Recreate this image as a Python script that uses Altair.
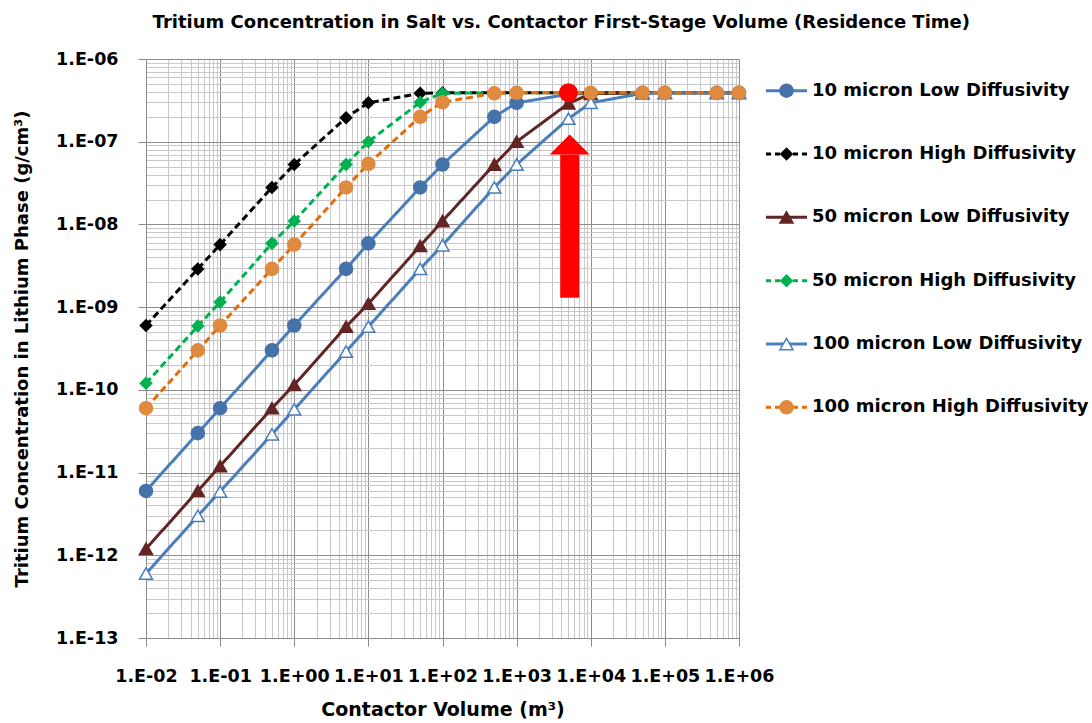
import altair as alt
import pandas as pd

# ---------------- data ----------------
volumes = [0.01, 0.05, 0.1, 0.5, 1, 5, 10, 50, 100, 500, 1000, 5000,
           1e4, 5e4, 1e5, 5e5, 1e6]

series_names = [
    "10 micron Low Diffusivity",
    "10 micron High Diffusivity",
    "50 micron Low Diffusivity",
    "50 micron High Diffusivity",
    "100 micron Low Diffusivity",
    "100 micron High Diffusivity",
]

low_10 = [6e-12, 3e-11, 6e-11, 3e-10, 6e-10, 2.9e-9, 5.9e-9, 2.8e-8, 5.3e-8,
          2e-7, 2.95e-7, 3.75e-7, 3.85e-7, 3.9e-7, 3.9e-7, 3.9e-7, 3.9e-7]
high_10 = [6e-10, 2.9e-9, 5.7e-9, 2.8e-8, 5.3e-8, 1.95e-7, 2.95e-7, 3.85e-7,
           3.9e-7, 3.9e-7, 3.9e-7, 3.9e-7, 3.9e-7, 3.9e-7, 3.9e-7, 3.9e-7, 3.9e-7]
low_50 = [1.2e-12, 6e-12, 1.2e-11, 6e-11, 1.15e-10, 5.8e-10, 1.1e-9, 5.5e-9,
          1.1e-8, 5.3e-8, 1e-7, 2.9e-7, 3.8e-7, 3.9e-7, 3.9e-7, 3.9e-7, 3.9e-7]
high_50 = [1.2e-10, 5.9e-10, 1.15e-9, 5.9e-9, 1.1e-8, 5.3e-8, 1e-7, 3e-7,
           3.85e-7, 3.9e-7, 3.9e-7, 3.9e-7, 3.9e-7, 3.9e-7, 3.9e-7, 3.9e-7, 3.9e-7]
low_100 = [6e-13, 3e-12, 5.9e-12, 2.9e-11, 5.8e-11, 2.9e-10, 5.8e-10, 2.9e-9,
           5.6e-9, 2.8e-8, 5.3e-8, 1.9e-7, 2.95e-7, 3.85e-7, 3.9e-7, 3.9e-7, 3.9e-7]
high_100 = [6e-11, 3e-10, 6e-10, 2.9e-9, 5.7e-9, 2.8e-8, 5.4e-8, 2e-7, 3e-7,
            3.85e-7, 3.9e-7, 3.9e-7, 3.9e-7, 3.9e-7, 3.9e-7, 3.9e-7, 3.9e-7]

series_values = [low_10, high_10, low_50, high_50, low_100, high_100]

# highlighted point and arrow annotation
highlight_x = [5000]
highlight_y = [3.9e-7]
arrow_x = [5200]
arrow_tail_y = [1.3e-9]
arrow_head_y = [7e-8]

# ---------------- styles ----------------
line_colors = ["#4A7EBB", "#000000", "#632523", "#00B050", "#4A7EBB", "#E46C0A"]
marker_fill = ["#4672AA", "#000000", "#632523", "#00B050", "#FFFFFF", "#DF8A3F"]
marker_stroke = ["#4672AA", "#000000", "#632523", "#00B050", "#4A7EBB", "#DF8A3F"]
shapes = ["circle", "diamond", "triangle-up", "diamond", "triangle-up", "circle"]
sizes = [170, 130, 170, 130, 170, 170]
dashes = [[1, 0], [7, 4], [1, 0], [7, 4], [1, 0], [7, 4]]

FONT = "DejaVu Sans"

rows = []
for name, vals in zip(series_names, series_values):
    for v, c in zip(volumes, vals):
        rows.append({"series": name, "volume": v, "conc": c})
df = pd.DataFrame(rows)

x_minor = [m * 10.0 ** e for e in range(-2, 6) for m in range(1, 10)] + [1e6]
y_minor = [m * 10.0 ** e for e in range(-13, -6) for m in range(1, 10)] + [1e-6]

is_major = "abs(log(datum.value)/LN10 - round(log(datum.value)/LN10)) < 1e-6"
exp_ = "round(log(datum.value)/LN10)"
label_expr = (
    f"({is_major}) ? '1.E' + ({exp_} < 0 ? '-' : '+') + "
    f"(abs({exp_}) < 10 ? '0' : '') + abs({exp_}) : ''"
)

grid_color = {"condition": {"test": is_major, "value": "#8C8C8C"}, "value": "#C8C8C8"}
tick_color = {"condition": {"test": is_major, "value": "#8C8C8C"}, "value": "transparent"}

x_axis = alt.Axis(
    values=x_minor, labelExpr=label_expr, grid=True, gridColor=grid_color,
    gridWidth=1, tickColor=tick_color, tickSize=8, domainColor="#8C8C8C",
    labelFont=FONT, labelFontSize=17.5, labelFontWeight="bold", labelColor="black",
    labelPadding=21, labelOverlap=False, labelFlush=False,
    title="Contactor Volume (m³)", titleFont=FONT, titleFontSize=19,
    titleFontWeight="bold", titleColor="black", titlePadding=16,
)
y_axis = alt.Axis(
    values=y_minor, labelExpr=label_expr, grid=True, gridColor=grid_color,
    gridWidth=1, tickColor=tick_color, tickSize=8, domainColor="#8C8C8C",
    labelFont=FONT, labelFontSize=17.5, labelFontWeight="bold", labelColor="black",
    labelPadding=20, labelOverlap=False, labelFlush=False,
    title="Tritium Concentration in Lithium Phase (g/cm³)", titleFont=FONT,
    titleFontSize=18, titleFontWeight="bold", titleColor="black", titlePadding=24,
)

x_scale = alt.Scale(type="log", domain=[1e-2, 1e6], nice=False)
y_scale = alt.Scale(type="log", domain=[1e-13, 1e-6], nice=False)


def xy(xf="volume", yf="conc"):
    return dict(
        x=alt.X(f"{xf}:Q", scale=x_scale, axis=x_axis),
        y=alt.Y(f"{yf}:Q", scale=y_scale, axis=y_axis),
    )


layers = []
for i, name in enumerate(series_names):
    sub = df[df["series"] == name]
    line = alt.Chart(sub).mark_line(
        color=line_colors[i], strokeWidth=3, strokeDash=dashes[i]
    ).encode(**xy())
    pts = alt.Chart(sub).mark_point(
        shape=shapes[i], size=sizes[i], filled=True, fill=marker_fill[i],
        stroke=marker_stroke[i], strokeWidth=1.5, opacity=1
    ).encode(**xy())
    layers += [line, pts]

hl_df = pd.DataFrame({"volume": highlight_x, "conc": highlight_y})
highlight = alt.Chart(hl_df).mark_point(
    shape="circle", size=361, filled=True, color="#FF0000", opacity=1
).encode(**xy())

ar_df = pd.DataFrame({"volume": arrow_x, "tail": arrow_tail_y, "head": arrow_head_y})
shaft = alt.Chart(ar_df).mark_rule(color="#FF0000", strokeWidth=19, strokeCap="butt").encode(
    x=alt.X("volume:Q", scale=x_scale, axis=x_axis),
    y=alt.Y("tail:Q", scale=y_scale, axis=y_axis),
    y2="head:Q",
)
head = alt.Chart(ar_df).mark_point(
    shape="M0,-1L1,0L-1,0Z", size=1600, filled=True, color="#FF0000", opacity=1
).encode(
    x=alt.X("volume:Q", scale=x_scale, axis=x_axis),
    y=alt.Y("head:Q", scale=y_scale, axis=y_axis),
)

main = alt.layer(*layers, highlight, shaft, head).properties(width=593, height=579)

# ---------------- legend ----------------
leg_df = pd.DataFrame({"series": series_names})
leg_y = alt.Y("series:N", scale=alt.Scale(domain=series_names), axis=None)
leg_layers = []
for i, name in enumerate(series_names):
    sub = leg_df[leg_df["series"] == name]
    leg_layers.append(
        alt.Chart(sub).mark_rule(color=line_colors[i], strokeWidth=3,
                                 strokeDash=[5, 4] if dashes[i][1] else [1, 0],
                                 strokeCap="butt")
        .encode(y=leg_y, x=alt.value(7), x2=alt.value(48))
    )
    leg_layers.append(
        alt.Chart(sub).mark_point(shape=shapes[i], size=sizes[i], filled=True,
                                  fill=marker_fill[i], stroke=marker_stroke[i],
                                  strokeWidth=1.5, opacity=1)
        .encode(y=leg_y, x=alt.value(27.5))
    )
    leg_layers.append(
        alt.Chart(sub).mark_text(align="left", baseline="middle", font=FONT,
                                 fontSize=18, fontWeight="bold", color="black")
        .encode(y=leg_y, x=alt.value(53), text="series:N")
    )
legend = alt.layer(*leg_layers).properties(width=330, height=380)

chart = alt.hconcat(main, legend, spacing=20, bounds="flush").properties(
    title=alt.TitleParams(
        "Tritium Concentration in Salt vs. Contactor First-Stage Volume (Residence Time)",
        font=FONT, fontSize=18, fontWeight="bold", color="black",
        anchor="middle", offset=18, dx=10,
    ),
    padding={"left": 13, "top": 14, "right": 2, "bottom": 6},
).configure_view(stroke=None)

chart.save("out.html", embed_options={"renderer": "svg", "actions": False})
